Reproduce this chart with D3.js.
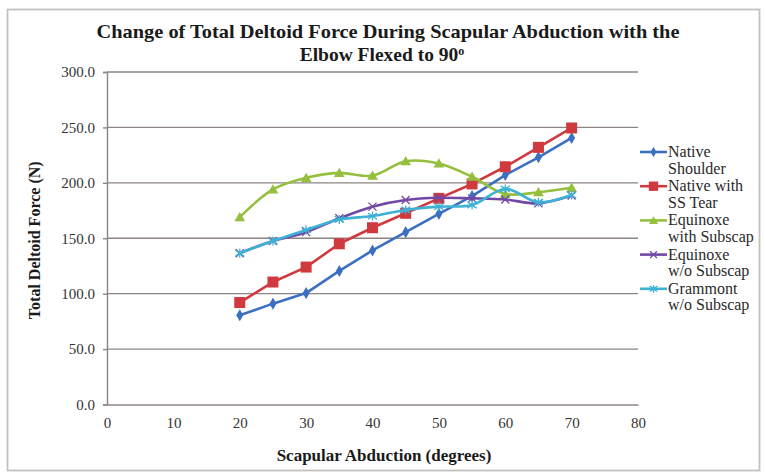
<!DOCTYPE html>
<html>
<head>
<meta charset="utf-8">
<script src="https://cdn.jsdelivr.net/npm/d3@7"></script>
<style>
  html, body { margin: 0; padding: 0; background: #fff; }
  svg { display: block; }
  text { font-family: "Liberation Serif", "Times New Roman", serif; }
</style>
</head>
<body>
<svg id="chart" width="765" height="474"></svg>
<script>
// Scapular abduction angles (degrees)
const angles = [20, 25, 30, 35, 40, 45, 50, 55, 60, 65, 70];

// Total deltoid force (N) for each configuration
const nativeShoulder = [80.5, 91, 100.5, 120.5, 139, 155.5, 172, 188, 207, 223, 240.5];
const nativeSSTear   = [92, 110.5, 124, 145, 159.5, 172.5, 186, 199, 214.5, 232, 249.5];
const equinoxeSub    = [169, 194, 204.5, 209, 206.5, 219.5, 217.5, 205.5, 190, 191.5, 195.5];
const equinoxeNoSub  = [136.5, 147.5, 155.5, 168, 178.5, 184.5, 186.5, 186, 185, 181.5, 188.5];
const grammontNoSub  = [136.5, 147.5, 157.5, 167, 170, 175.5, 178.5, 180, 194.5, 182.5, 189];

const seriesNames = [["Native", "Shoulder"], ["Native with", "SS Tear"], ["Equinoxe", "with Subscap"], ["Equinoxe", "w/o Subscap"], ["Grammont", "w/o Subscap"]];
const seriesValues = [nativeShoulder, nativeSSTear, equinoxeSub, equinoxeNoSub, grammontNoSub];
const seriesColors = ["#3b6fc2", "#d03a3e", "#94c03e", "#7248a6", "#3db2d6"];
const seriesMarkers = ["diamond", "square", "triangle", "cross", "asterisk"];
const seriesSmooth = [false, false, true, true, true];

const xTicks = [0, 10, 20, 30, 40, 50, 60, 70, 80];
const yTicks = [0, 50, 100, 150, 200, 250, 300];

const titleLines = ["Change of Total Deltoid Force During Scapular Abduction with the", "Elbow Flexed to 90"];
const xTitle = "Scapular Abduction (degrees)";
const yTitle = "Total Deltoid Force (N)";

const svg = d3.select("#chart");

// outer frame
svg.append("rect")
  .attr("x", 7.5).attr("y", 9.5).attr("width", 752).attr("height", 461)
  .attr("fill", "#fff").attr("stroke", "#c4c0bc").attr("stroke-width", 1.8);

const plot = { left: 107, right: 638, top: 72, bottom: 404.5 };
const x = d3.scaleLinear().domain([0, 80]).range([plot.left, plot.right]);
const y = d3.scaleLinear().domain([0, 300]).range([plot.bottom, plot.top]);

// horizontal gridlines
svg.append("g")
  .selectAll("line")
  .data(yTicks.filter(v => v > 0))
  .join("line")
  .attr("x1", plot.left).attr("x2", plot.right)
  .attr("y1", d => y(d)).attr("y2", d => y(d))
  .attr("stroke", "#8c8482").attr("stroke-width", 1.4);

// y axis
const yAxis = svg.append("g")
  .attr("transform", `translate(${plot.left},0)`)
  .call(d3.axisLeft(y).tickValues(yTicks).tickSize(4).tickFormat(d3.format(".1f")));
yAxis.select(".domain").attr("stroke", "#8c8482").attr("stroke-width", 1.4);
yAxis.selectAll(".tick line").attr("stroke", "#8c8482").attr("stroke-width", 1.4);
yAxis.selectAll(".tick text")
  .attr("x", -12)
  .attr("font-family", "Liberation Serif, serif").attr("font-size", 15).attr("fill", "#333");

// x axis
const xAxis = svg.append("g")
  .attr("transform", `translate(0,${plot.bottom})`)
  .call(d3.axisBottom(x).tickValues(xTicks).tickSize(0).tickFormat(d3.format("d")));
xAxis.select(".domain").attr("stroke", "#8c8482").attr("stroke-width", 1.4);
xAxis.selectAll(".tick text")
  .attr("y", 13)
  .attr("font-family", "Liberation Serif, serif").attr("font-size", 15).attr("fill", "#333");

// titles
const title = svg.append("text")
  .attr("text-anchor", "middle")
  .attr("font-weight", "bold").attr("font-size", 19.5).attr("fill", "#1a1a1a");
title.append("tspan").attr("x", 388).attr("y", 38)
  .attr("textLength", 583).attr("lengthAdjust", "spacingAndGlyphs")
  .text(titleLines[0]);
title.append("tspan").attr("x", 382).attr("y", 61).text(titleLines[1]);
title.append("tspan").attr("dy", -6).attr("font-size", 12).text("o");

svg.append("text")
  .attr("x", 384).attr("y", 461).attr("text-anchor", "middle")
  .attr("font-weight", "bold").attr("font-size", 17).attr("fill", "#1a1a1a")
  .text(xTitle);

svg.append("text")
  .attr("transform", `translate(40,${(plot.top + plot.bottom) / 2 + 2}) rotate(-90)`)
  .attr("text-anchor", "middle")
  .attr("font-weight", "bold").attr("font-size", 16).attr("fill", "#1a1a1a")
  .text(yTitle);

// marker drawing
function drawMarker(g, type, color, cx, cy, scale = 1) {
  const s = scale;
  if (type === "diamond") {
    g.append("path").attr("d", d3.symbol(d3.symbolDiamond, 42 * s * s)())
      .attr("transform", `translate(${cx},${cy})`).attr("fill", color);
  } else if (type === "square") {
    const w = 11 * s;
    g.append("rect").attr("x", cx - w / 2).attr("y", cy - w / 2).attr("width", w).attr("height", w)
      .attr("fill", color);
  } else if (type === "triangle") {
    g.append("path").attr("d", d3.symbol(d3.symbolTriangle, 50 * s * s)())
      .attr("transform", `translate(${cx},${cy + 1})`).attr("fill", color);
  } else if (type === "cross") {
    const r = 4 * s;
    g.append("path").attr("d", `M${cx - r},${cy - r}L${cx + r},${cy + r}M${cx - r},${cy + r}L${cx + r},${cy - r}`)
      .attr("stroke", color).attr("stroke-width", 1.3).attr("fill", "none");
  } else if (type === "asterisk") {
    const r = 4.5 * s;
    g.append("path").attr("d", `M${cx - r},${cy - r * 0.7}L${cx + r},${cy + r * 0.7}M${cx - r},${cy + r * 0.7}L${cx + r},${cy - r * 0.7}M${cx},${cy - r}L${cx},${cy + r}`)
      .attr("stroke", color).attr("stroke-width", 1.3).attr("fill", "none");
  }
}

// series lines and markers
const seriesG = svg.append("g");
seriesValues.forEach((vals, i) => {
  const pts = angles.map((a, j) => [a, vals[j]]);
  const line = d3.line()
    .x(d => x(d[0])).y(d => y(d[1]))
    .curve(seriesSmooth[i] ? d3.curveCatmullRom.alpha(0.5) : d3.curveLinear);
  const g = seriesG.append("g");
  g.append("path").datum(pts).attr("d", line)
    .attr("fill", "none").attr("stroke", seriesColors[i]).attr("stroke-width", 2.6)
    .attr("stroke-linejoin", "round");
  pts.forEach(p => drawMarker(g, seriesMarkers[i], seriesColors[i], x(p[0]), y(p[1])));
});

// legend
const legend = svg.append("g");
seriesNames.forEach((name, i) => {
  const yy = 152 + i * 34.2;
  legend.append("line")
    .attr("x1", 640).attr("x2", 667).attr("y1", yy).attr("y2", yy)
    .attr("stroke", seriesColors[i]).attr("stroke-width", 2.6);
  drawMarker(legend, seriesMarkers[i], seriesColors[i], 653.5, yy, 0.85);
  const t = legend.append("text")
    .attr("font-size", 16).attr("fill", "#2a2a2a");
  t.append("tspan").attr("x", 668).attr("y", yy + 5).text(name[0]);
  t.append("tspan").attr("x", 668).attr("y", yy + 21.5).text(name[1]);
});
</script>
</body>
</html>
